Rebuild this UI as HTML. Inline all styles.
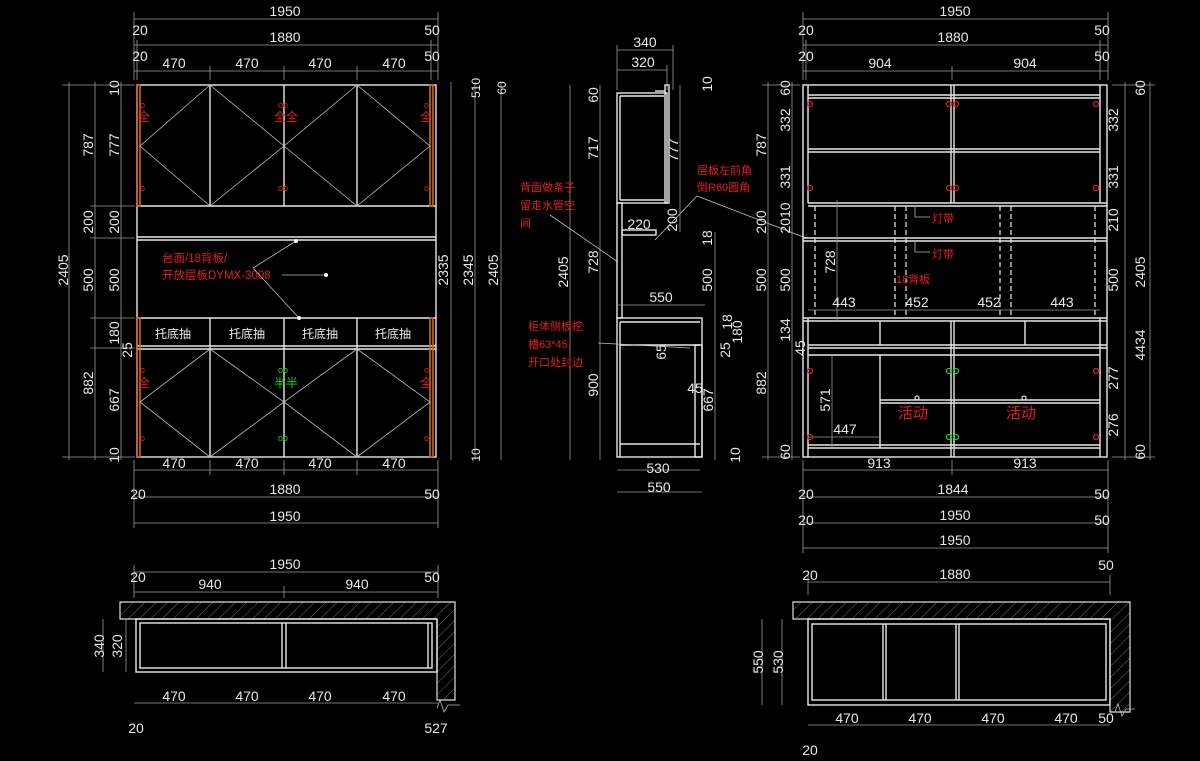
<!DOCTYPE html>
<html><head><meta charset="utf-8"><style>
html,body{margin:0;padding:0;background:#000;}
svg{display:block}
text{font-family:"Liberation Sans","Noto Sans CJK SC",sans-serif;font-size:14px;fill:#e8e8e8}
.r{fill:#e02020;font-size:12px}
.g{fill:#20d020;font-size:12px}
.d{stroke:#9a9a9a;stroke-width:0.8;fill:none}
.w{stroke:#e8e8e8;stroke-width:1.4;fill:none}
.t{stroke:#bbb;stroke-width:0.8;fill:none}
.o{stroke:#d06a10;stroke-width:1.6;fill:none}
.dash{stroke:#e8e8e8;stroke-width:1.2;stroke-dasharray:5,3;fill:none}
</style></head><body>
<svg width="1200" height="761" viewBox="0 0 1200 761" xmlns="http://www.w3.org/2000/svg">
<defs>
<pattern id="h" width="8" height="8" patternUnits="userSpaceOnUse" patternTransform="rotate(45)"><line x1="0" y1="0" x2="0" y2="8" stroke="#888" stroke-width="0.8"/></pattern>
</defs>
<rect width="1200" height="761" fill="#000"/>

<!-- ===== LEFT ELEVATION ===== -->
<!-- top dims -->
<line class="d" x1="134" y1="19" x2="438" y2="19"/>
<line class="d" x1="134" y1="45" x2="438" y2="45"/>
<line class="d" x1="134" y1="71" x2="438" y2="71"/>
<g class="d"><line x1="134" y1="12" x2="134" y2="80"/><line x1="438" y1="12" x2="438" y2="80"/><line x1="137" y1="40" x2="137" y2="80"/><line x1="431" y1="40" x2="431" y2="80"/><line x1="210" y1="66" x2="210" y2="80"/><line x1="284" y1="66" x2="284" y2="80"/><line x1="357" y1="66" x2="357" y2="80"/></g>
<text x="285" y="16" text-anchor="middle">1950</text>
<text x="140" y="35" text-anchor="middle">20</text><text x="285" y="42" text-anchor="middle">1880</text><text x="432" y="35" text-anchor="middle">50</text>
<text x="140" y="61" text-anchor="middle">20</text><text x="432" y="61" text-anchor="middle">50</text>
<text x="174" y="68" text-anchor="middle">470</text><text x="247" y="68" text-anchor="middle">470</text><text x="320" y="68" text-anchor="middle">470</text><text x="394" y="68" text-anchor="middle">470</text>

<!-- left vertical dims -->
<g class="d"><line x1="69" y1="82" x2="69" y2="460"/><line x1="95" y1="82" x2="95" y2="460"/><line x1="121" y1="82" x2="121" y2="460"/>
<line x1="62" y1="85" x2="135" y2="85"/><line x1="62" y1="457" x2="135" y2="457"/><line x1="90" y1="206" x2="135" y2="206"/><line x1="90" y1="238" x2="135" y2="238"/><line x1="90" y1="318" x2="135" y2="318"/><line x1="90" y1="348" x2="135" y2="348"/></g>
<text transform="translate(68,270) rotate(-90)" text-anchor="middle">2405</text>
<text transform="translate(93,145) rotate(-90)" text-anchor="middle">787</text>
<text transform="translate(93,222) rotate(-90)" text-anchor="middle">200</text>
<text transform="translate(93,280) rotate(-90)" text-anchor="middle">500</text>
<text transform="translate(93,383) rotate(-90)" text-anchor="middle">882</text>
<text transform="translate(119,145) rotate(-90)" text-anchor="middle">777</text>
<text transform="translate(119,222) rotate(-90)" text-anchor="middle">200</text>
<text transform="translate(119,280) rotate(-90)" text-anchor="middle">500</text>
<text transform="translate(119,333) rotate(-90)" text-anchor="middle">180</text>
<text transform="translate(132,350) rotate(-90)" text-anchor="middle">25</text>
<text transform="translate(119,400) rotate(-90)" text-anchor="middle">667</text>
<text transform="translate(119,88) rotate(-90)" text-anchor="middle">10</text>
<text transform="translate(119,455) rotate(-90)" text-anchor="middle">10</text>

<!-- right vertical dims -->
<g class="d"><line x1="451" y1="82" x2="451" y2="460"/><line x1="475" y1="82" x2="475" y2="460"/><line x1="501" y1="82" x2="501" y2="460"/></g>
<text transform="translate(448,270) rotate(-90)" text-anchor="middle">2335</text>
<text transform="translate(473,270) rotate(-90)" text-anchor="middle">2345</text>
<text transform="translate(498,270) rotate(-90)" text-anchor="middle">2405</text>
<text transform="translate(480,88) rotate(-90)" text-anchor="middle" style="font-size:12px">510</text>
<text transform="translate(506,88) rotate(-90)" text-anchor="middle" style="font-size:12px">60</text>
<text transform="translate(480,455) rotate(-90)" text-anchor="middle" style="font-size:12px">10</text>

<!-- carcass -->
<rect class="w" x="137" y="85" width="299" height="372"/>
<line class="w" x1="137" y1="206" x2="436" y2="206"/>
<line class="w" x1="137" y1="237" x2="436" y2="237"/><line class="w" x1="137" y1="240" x2="436" y2="240"/>
<line class="w" x1="137" y1="318" x2="436" y2="318"/>
<line class="w" x1="137" y1="346" x2="436" y2="346"/><line class="w" x1="137" y1="349" x2="436" y2="349"/>
<g class="w"><line x1="210" y1="85" x2="210" y2="206"/><line x1="284" y1="85" x2="284" y2="206"/><line x1="357" y1="85" x2="357" y2="206"/>
<line x1="210" y1="318" x2="210" y2="457"/><line x1="284" y1="318" x2="284" y2="457"/><line x1="357" y1="318" x2="357" y2="457"/></g>
<rect class="o" x="137" y="85" width="3" height="121"/><rect class="o" x="430" y="85" width="3" height="121"/>
<rect class="o" x="137" y="318" width="3" height="139"/><rect class="o" x="430" y="318" width="3" height="139"/>
<g class="t">
<polyline points="210,85 140,146 210,206"/><polyline points="210,85 284,146 210,206"/><polyline points="357,85 284,146 357,206"/><polyline points="357,85 430,146 357,206"/>
<polyline points="210,349 140,402 210,457"/><polyline points="210,349 284,402 210,457"/><polyline points="357,349 284,402 357,457"/><polyline points="357,349 430,402 357,457"/>
</g>
<text x="173" y="338" text-anchor="middle" style="font-size:12px">托底抽</text><text x="247" y="338" text-anchor="middle" style="font-size:12px">托底抽</text><text x="320" y="338" text-anchor="middle" style="font-size:12px">托底抽</text><text x="393" y="338" text-anchor="middle" style="font-size:12px">托底抽</text>
<text class="r" x="138" y="121">全</text><text class="r" x="274" y="121">全全</text><text class="r" x="420" y="121">全</text>
<text class="r" x="140" y="108" style="font-size:9px">o</text><text class="r" x="278" y="108" style="font-size:9px">oo</text><text class="r" x="424" y="108" style="font-size:9px">o</text>
<text class="r" x="140" y="191" style="font-size:9px">o</text><text class="r" x="278" y="191" style="font-size:9px">oo</text><text class="r" x="424" y="191" style="font-size:9px">o</text>
<text class="r" x="138" y="387">全</text><text class="g" x="274" y="387">半半</text><text class="r" x="420" y="387">全</text>
<text class="r" x="140" y="373" style="font-size:9px">o</text><text class="g" x="278" y="373" style="font-size:9px">oo</text><text class="r" x="424" y="373" style="font-size:9px">o</text>
<text class="r" x="140" y="441" style="font-size:9px">o</text><text class="g" x="278" y="441" style="font-size:9px">oo</text><text class="r" x="424" y="441" style="font-size:9px">o</text>
<text class="r" x="162" y="262" style="font-size:11.5px">台面/18背板/</text>
<text class="r" x="162" y="279" style="font-size:11.5px">开放层板DYMX-3008</text>
<polyline class="t" points="296,241 253,268 299,318"/><line class="t" x1="282" y1="275" x2="326" y2="275"/>
<circle cx="296" cy="241" r="2" fill="#fff"/><circle cx="299" cy="318" r="2" fill="#fff"/><circle cx="326" cy="275" r="2" fill="#fff"/>

<!-- bottom dims -->
<g class="d"><line x1="134" y1="470" x2="438" y2="470"/><line x1="134" y1="497" x2="438" y2="497"/><line x1="134" y1="523" x2="438" y2="523"/>
<line x1="134" y1="460" x2="134" y2="528"/><line x1="438" y1="460" x2="438" y2="528"/><line x1="210" y1="460" x2="210" y2="475"/><line x1="284" y1="460" x2="284" y2="475"/><line x1="357" y1="460" x2="357" y2="475"/></g>
<text x="174" y="468" text-anchor="middle">470</text><text x="247" y="468" text-anchor="middle">470</text><text x="320" y="468" text-anchor="middle">470</text><text x="394" y="468" text-anchor="middle">470</text>
<text x="138" y="499" text-anchor="middle">20</text><text x="285" y="494" text-anchor="middle">1880</text><text x="432" y="499" text-anchor="middle">50</text>
<text x="285" y="521" text-anchor="middle">1950</text>

<!-- ===== SIDE VIEW ===== -->
<g class="d"><line x1="617" y1="50" x2="673" y2="50"/><line x1="617" y1="70" x2="667" y2="70"/><line x1="617" y1="45" x2="617" y2="90"/><line x1="673" y1="45" x2="673" y2="90"/><line x1="667" y1="65" x2="667" y2="90"/></g>
<text x="645" y="47" text-anchor="middle">340</text><text x="643" y="67" text-anchor="middle">320</text>
<rect class="w" x="617" y="93" width="50" height="110"/>
<line class="w" x1="620" y1="96" x2="664" y2="96"/><line class="w" x1="620" y1="200" x2="664" y2="200"/><line class="w" x1="620" y1="96" x2="620" y2="200"/>
<rect class="w" x="665" y="85" width="4" height="118"/><line class="w" x1="655" y1="91" x2="665" y2="91"/>
<rect class="w" x="617" y="203" width="5" height="115"/>
<rect class="w" x="622" y="230" width="34" height="5"/>
<rect class="w" x="617" y="318" width="85" height="139"/>
<line class="w" x1="620" y1="322" x2="700" y2="322"/><line class="w" x1="620" y1="322" x2="620" y2="457"/><line class="w" x1="620" y1="444" x2="700" y2="444"/>
<rect class="w" x="695" y="345" width="7" height="112"/><line class="w" x1="620" y1="345" x2="700" y2="345"/>
<g class="d"><line x1="570" y1="85" x2="570" y2="460"/><line x1="600" y1="85" x2="600" y2="460"/><line x1="680" y1="85" x2="680" y2="232"/><line x1="715" y1="232" x2="715" y2="460"/><line x1="617" y1="305" x2="705" y2="305"/><line x1="617" y1="470" x2="700" y2="470"/><line x1="617" y1="492" x2="702" y2="492"/></g>
<text transform="translate(568,272) rotate(-90)" text-anchor="middle">2405</text>
<text transform="translate(598,95) rotate(-90)" text-anchor="middle">60</text>
<text transform="translate(598,148) rotate(-90)" text-anchor="middle">717</text>
<text transform="translate(598,262) rotate(-90)" text-anchor="middle">728</text>
<text transform="translate(598,385) rotate(-90)" text-anchor="middle">900</text>
<text transform="translate(678,150) rotate(-90)" text-anchor="middle">777</text>
<text transform="translate(677,220) rotate(-90)" text-anchor="middle">200</text>
<text transform="translate(712,84) rotate(-90)" text-anchor="middle">10</text>
<text transform="translate(712,238) rotate(-90)" text-anchor="middle">18</text>
<text transform="translate(712,280) rotate(-90)" text-anchor="middle">500</text>
<text transform="translate(732,322) rotate(-90)" text-anchor="middle">18</text>
<text transform="translate(742,332) rotate(-90)" text-anchor="middle">180</text>
<text transform="translate(730,350) rotate(-90)" text-anchor="middle">25</text>
<text transform="translate(666,352) rotate(-90)" text-anchor="middle">65</text>
<text transform="translate(713,400) rotate(-90)" text-anchor="middle">667</text>
<text transform="translate(740,455) rotate(-90)" text-anchor="middle">10</text>
<text x="695" y="393" text-anchor="middle">45</text>
<text x="639" y="229" text-anchor="middle">220</text>
<text x="661" y="302" text-anchor="middle">550</text>
<text x="658" y="473" text-anchor="middle">530</text>
<text x="659" y="492" text-anchor="middle">550</text>
<text class="r" x="520" y="191" style="font-size:11px">背面做条子</text>
<text class="r" x="520" y="209" style="font-size:11px">留走水管空</text>
<text class="r" x="520" y="227" style="font-size:11px">间</text>
<line class="t" x1="550" y1="215" x2="618" y2="262"/>
<text class="r" x="697" y="174" style="font-size:11px">层板左前角</text>
<text class="r" x="697" y="191" style="font-size:11px">倒R60圆角</text>
<polyline class="t" points="655,240 697,196 806,238"/>
<text class="r" x="528" y="330" style="font-size:11px">柜体侧板挖</text>
<text class="r" x="528" y="348" style="font-size:11px">槽63*45,</text>
<text class="r" x="528" y="366" style="font-size:11px">开口处封边</text>
<line class="t" x1="598" y1="343" x2="690" y2="348"/>

<!-- ===== RIGHT ELEVATION ===== -->
<g class="d"><line x1="803" y1="19" x2="1108" y2="19"/><line x1="803" y1="45" x2="1108" y2="45"/><line x1="803" y1="71" x2="1108" y2="71"/>
<line x1="803" y1="12" x2="803" y2="80"/><line x1="1108" y1="12" x2="1108" y2="80"/><line x1="806" y1="40" x2="806" y2="80"/><line x1="1100" y1="40" x2="1100" y2="80"/><line x1="952" y1="66" x2="952" y2="80"/></g>
<text x="955" y="16" text-anchor="middle">1950</text>
<text x="806" y="35" text-anchor="middle">20</text><text x="953" y="42" text-anchor="middle">1880</text><text x="1102" y="35" text-anchor="middle">50</text>
<text x="806" y="61" text-anchor="middle">20</text><text x="1102" y="61" text-anchor="middle">50</text>
<text x="880" y="68" text-anchor="middle">904</text><text x="1025" y="68" text-anchor="middle">904</text>

<g class="d"><line x1="768" y1="82" x2="768" y2="460"/><line x1="792" y1="82" x2="792" y2="460"/><line x1="1125" y1="82" x2="1125" y2="460"/><line x1="1150" y1="82" x2="1150" y2="460"/>
<line x1="762" y1="85" x2="800" y2="85"/><line x1="762" y1="457" x2="800" y2="457"/><line x1="1112" y1="85" x2="1155" y2="85"/><line x1="1112" y1="457" x2="1155" y2="457"/></g>
<text transform="translate(766,145) rotate(-90)" text-anchor="middle">787</text>
<text transform="translate(766,222) rotate(-90)" text-anchor="middle">200</text>
<text transform="translate(766,280) rotate(-90)" text-anchor="middle">500</text>
<text transform="translate(766,383) rotate(-90)" text-anchor="middle">882</text>
<text transform="translate(790,88) rotate(-90)" text-anchor="middle">60</text>
<text transform="translate(790,120) rotate(-90)" text-anchor="middle">332</text>
<text transform="translate(790,177) rotate(-90)" text-anchor="middle">331</text>
<text transform="translate(790,218) rotate(-90)" text-anchor="middle">2010</text>
<text transform="translate(790,280) rotate(-90)" text-anchor="middle">500</text>
<text transform="translate(790,330) rotate(-90)" text-anchor="middle">134</text>
<text transform="translate(805,348) rotate(-90)" text-anchor="middle">45</text>
<text transform="translate(790,452) rotate(-90)" text-anchor="middle">60</text>
<text transform="translate(1118,120) rotate(-90)" text-anchor="middle">332</text>
<text transform="translate(1118,177) rotate(-90)" text-anchor="middle">331</text>
<text transform="translate(1118,220) rotate(-90)" text-anchor="middle">210</text>
<text transform="translate(1118,280) rotate(-90)" text-anchor="middle">500</text>
<text transform="translate(1118,378) rotate(-90)" text-anchor="middle">277</text>
<text transform="translate(1118,425) rotate(-90)" text-anchor="middle">276</text>
<text transform="translate(1145,88) rotate(-90)" text-anchor="middle">60</text>
<text transform="translate(1145,272) rotate(-90)" text-anchor="middle">2405</text>
<text transform="translate(1145,345) rotate(-90)" text-anchor="middle">4434</text>
<text transform="translate(1145,452) rotate(-90)" text-anchor="middle">60</text>

<rect class="w" x="803" y="85" width="304" height="372"/>
<line class="w" x1="808" y1="85" x2="808" y2="203"/><line class="w" x1="1100" y1="85" x2="1100" y2="203"/>
<line class="w" x1="808" y1="318" x2="808" y2="457"/><line class="w" x1="1100" y1="318" x2="1100" y2="457"/>
<g class="w"><line x1="808" y1="95" x2="1100" y2="95"/><line x1="808" y1="98" x2="1100" y2="98"/>
<line x1="808" y1="149" x2="1100" y2="149"/><line x1="808" y1="152" x2="1100" y2="152"/>
<line x1="808" y1="203" x2="1107" y2="203"/><line x1="808" y1="206" x2="1107" y2="206"/>
<line x1="803" y1="238" x2="1107" y2="238"/><line x1="803" y1="241" x2="1107" y2="241"/>
<line x1="803" y1="318" x2="1107" y2="318"/><line x1="803" y1="321" x2="1107" y2="321"/>
<line x1="808" y1="345" x2="1107" y2="345"/><line x1="808" y1="348" x2="1107" y2="348"/>
<line x1="808" y1="355" x2="1100" y2="355"/>
<line x1="880" y1="400" x2="1100" y2="400"/><line x1="880" y1="403" x2="1100" y2="403"/>
<line x1="808" y1="445" x2="1100" y2="445"/><line x1="808" y1="448" x2="1100" y2="448"/>
<line x1="951" y1="85" x2="951" y2="203"/><line x1="954" y1="85" x2="954" y2="203"/>
<line x1="951" y1="321" x2="951" y2="457"/><line x1="954" y1="321" x2="954" y2="457"/>
<line x1="880" y1="321" x2="880" y2="345"/><line x1="1025" y1="321" x2="1025" y2="345"/>
<line x1="880" y1="355" x2="880" y2="448"/></g>
<g class="dash"><line x1="815" y1="206" x2="815" y2="318"/><line x1="895" y1="206" x2="895" y2="318"/><line x1="906" y1="206" x2="906" y2="318"/><line x1="1000" y1="206" x2="1000" y2="318"/><line x1="1011" y1="206" x2="1011" y2="318"/><line x1="1095" y1="206" x2="1095" y2="318"/></g>
<polyline class="t" points="915,206 915,217 930,217"/><polyline class="t" points="915,241 915,252 930,252"/>
<text class="r" x="932" y="222" style="font-size:11px">灯带</text><text class="r" x="932" y="258" style="font-size:11px">灯带</text>
<text class="r" x="896" y="283" style="font-size:11px">18背板</text>
<g class="d"><line x1="837" y1="200" x2="837" y2="322"/><line x1="808" y1="310" x2="1100" y2="310"/><line x1="832" y1="355" x2="832" y2="448"/><line x1="808" y1="437" x2="880" y2="437"/></g>
<text transform="translate(835,262) rotate(-90)" text-anchor="middle">728</text>
<text transform="translate(830,400) rotate(-90)" text-anchor="middle">571</text>
<text x="844" y="307" text-anchor="middle">443</text><text x="917" y="307" text-anchor="middle">452</text><text x="989" y="307" text-anchor="middle">452</text><text x="1062" y="307" text-anchor="middle">443</text>
<text x="845" y="434" text-anchor="middle">447</text>
<text class="r" x="898" y="418" style="font-size:15px">活动</text><text class="r" x="1006" y="418" style="font-size:15px">活动</text>
<g fill="none" stroke-width="1.2">
<circle cx="810" cy="104" r="2.5" stroke="#e02020"/><circle cx="949" cy="104" r="2.5" stroke="#e02020"/><circle cx="956" cy="104" r="2.5" stroke="#e02020"/><circle cx="1096" cy="104" r="2.5" stroke="#e02020"/>
<circle cx="810" cy="188" r="2.5" stroke="#e02020"/><circle cx="949" cy="188" r="2.5" stroke="#e02020"/><circle cx="956" cy="188" r="2.5" stroke="#e02020"/><circle cx="1096" cy="188" r="2.5" stroke="#e02020"/>
<circle cx="810" cy="371" r="2.5" stroke="#e02020"/><circle cx="1096" cy="371" r="2.5" stroke="#e02020"/><circle cx="810" cy="437" r="2.5" stroke="#e02020"/><circle cx="1096" cy="437" r="2.5" stroke="#e02020"/>
<circle cx="949" cy="371" r="2.5" stroke="#20d020"/><circle cx="956" cy="371" r="2.5" stroke="#20d020"/><circle cx="949" cy="437" r="2.5" stroke="#20d020"/><circle cx="956" cy="437" r="2.5" stroke="#20d020"/>
<circle cx="917" cy="398" r="2" stroke="#ddd"/><circle cx="1024" cy="398" r="2" stroke="#ddd"/>
</g>
<g class="d"><line x1="803" y1="470" x2="1108" y2="470"/><line x1="803" y1="497" x2="1108" y2="497"/><line x1="803" y1="523" x2="1108" y2="523"/><line x1="803" y1="548" x2="1108" y2="548"/>
<line x1="803" y1="460" x2="803" y2="553"/><line x1="1108" y1="460" x2="1108" y2="553"/><line x1="952" y1="460" x2="952" y2="475"/></g>
<text x="879" y="468" text-anchor="middle">913</text><text x="1025" y="468" text-anchor="middle">913</text>
<text x="806" y="499" text-anchor="middle">20</text><text x="953" y="494" text-anchor="middle">1844</text><text x="1102" y="499" text-anchor="middle">50</text>
<text x="806" y="525" text-anchor="middle">20</text><text x="955" y="520" text-anchor="middle">1950</text><text x="1102" y="525" text-anchor="middle">50</text>
<text x="955" y="545" text-anchor="middle">1950</text>

<!-- ===== LEFT PLAN ===== -->
<g class="d"><line x1="134" y1="572" x2="438" y2="572"/><line x1="134" y1="592" x2="438" y2="592"/><line x1="134" y1="565" x2="134" y2="598"/><line x1="438" y1="565" x2="438" y2="598"/><line x1="284" y1="586" x2="284" y2="598"/></g>
<text x="285" y="569" text-anchor="middle">1950</text>
<text x="138" y="582" text-anchor="middle">20</text><text x="432" y="582" text-anchor="middle">50</text>
<text x="210" y="589" text-anchor="middle">940</text><text x="357" y="589" text-anchor="middle">940</text>
<path d="M120,602 H455 V700 H437 V619 H120 Z" fill="url(#h)" stroke="#ddd" stroke-width="1.2"/>
<rect class="w" x="136" y="619" width="301" height="53"/>
<rect class="w" x="140" y="623" width="292" height="45"/>
<line class="w" x1="282" y1="623" x2="282" y2="668"/><line class="w" x1="286" y1="623" x2="286" y2="668"/>
<line class="w" x1="428" y1="623" x2="428" y2="668"/>
<g class="d"><line x1="103" y1="619" x2="103" y2="672"/><line x1="126" y1="619" x2="126" y2="672"/><line x1="134" y1="703" x2="438" y2="703"/></g>
<text transform="translate(104,646) rotate(-90)" text-anchor="middle">340</text>
<text transform="translate(122,646) rotate(-90)" text-anchor="middle">320</text>
<text x="174" y="701" text-anchor="middle">470</text><text x="247" y="701" text-anchor="middle">470</text><text x="320" y="701" text-anchor="middle">470</text><text x="394" y="701" text-anchor="middle">470</text>
<polyline class="t" points="437,708 440,700 444,712 448,705 460,705"/>
<text x="136" y="733" text-anchor="middle">20</text><text x="436" y="733" text-anchor="middle">527</text>

<!-- ===== RIGHT PLAN ===== -->
<g class="d"><line x1="808" y1="582" x2="1110" y2="582"/><line x1="808" y1="575" x2="808" y2="595"/><line x1="1110" y1="575" x2="1110" y2="595"/></g>
<text x="810" y="580" text-anchor="middle">20</text><text x="955" y="579" text-anchor="middle">1880</text><text x="1106" y="570" text-anchor="middle">50</text>
<path d="M793,602 H1130 V712 H1110 V619 H793 Z" fill="url(#h)" stroke="#ddd" stroke-width="1.2"/>
<rect class="w" x="808" y="619" width="302" height="86"/>
<rect class="w" x="812" y="624" width="294" height="76"/>
<line class="w" x1="883" y1="624" x2="883" y2="700"/><line class="w" x1="886" y1="624" x2="886" y2="700"/>
<line class="w" x1="956" y1="624" x2="956" y2="700"/><line class="w" x1="959" y1="624" x2="959" y2="700"/>
<g class="d"><line x1="762" y1="619" x2="762" y2="705"/><line x1="782" y1="619" x2="782" y2="705"/><line x1="808" y1="725" x2="1110" y2="725"/></g>
<text transform="translate(763,662) rotate(-90)" text-anchor="middle">550</text>
<text transform="translate(783,662) rotate(-90)" text-anchor="middle">530</text>
<text x="847" y="723" text-anchor="middle">470</text><text x="920" y="723" text-anchor="middle">470</text><text x="993" y="723" text-anchor="middle">470</text><text x="1066" y="723" text-anchor="middle">470</text>
<text x="1106" y="723" text-anchor="middle">50</text>
<polyline class="t" points="1115,712 1118,704 1122,716 1126,709 1135,709"/>
<text x="810" y="755" text-anchor="middle">20</text>
</svg>
</body></html>
